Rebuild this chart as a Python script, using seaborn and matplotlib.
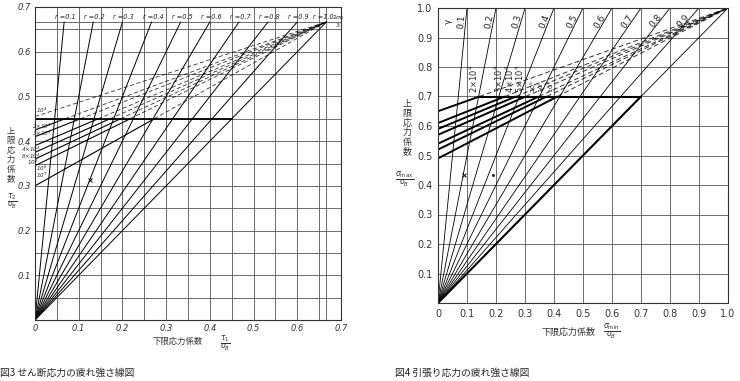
import numpy as np
import pandas as pd
import matplotlib.pyplot as plt
import seaborn as sns

sns.set_style("white")
plt.rcParams['font.family'] = ['DejaVu Sans', 'Noto Sans CJK JP']
plt.rcParams['mathtext.fontset'] = 'dejavusans'
JP = ['Noto Sans CJK JP', 'DejaVu Sans']

# ---- data: 図3 (shear) ----
r_left = [0.1, 0.2, 0.3, 0.4, 0.5, 0.6, 0.7, 0.8, 0.9, 1.0]
n_left = ['10$^4$', '2×10$^4$', '3×10$^4$', '4×10$^4$', '6×10$^4$', '10$^5$', '10$^6$', '10$^7$']
a_left = [0.455, 0.425, 0.41, 0.39, 0.375, 0.36, 0.345, 0.30]
limit_left = 0.45
apex_left = 2 / 3

# ---- data: 図4 (tension) ----
r_right = [0.1, 0.2, 0.3, 0.4, 0.5, 0.6, 0.7, 0.8, 0.9, 1.0]
n_right = ['2×10$^4$', '3×10$^4$', '4×10$^4$', '5×10$^4$', '10$^5$', '10$^6$', '10$^7$']
a_right = [0.65, 0.61, 0.59, 0.57, 0.54, 0.52, 0.49]
limit_right = 0.70
apex_right = 1.0

GRID = '#555555'
fig = plt.figure(figsize=(7.4, 3.81), dpi=100)
axl = fig.add_axes([35 / 740, 1 - 320 / 381, 306 / 740, 313 / 381])
axr = fig.add_axes([438 / 740, 1 - 303 / 381, 290 / 740, 295 / 381])


def fan_frame(rs, top):
    rows = []
    for r in rs:
        rows.append({'r': r, 'x': 0.0, 'y': 0.0})
        rows.append({'r': r, 'x': r * top, 'y': top})
    return pd.DataFrame(rows)


def n_lines(ax, a_vals, limit, apex, lw_solid, dash_lw):
    for a in a_vals:
        # straight line from (0, a) to apex; solid below limit, dashed above
        if a < limit:
            xc = (limit - a) / (apex - a) * apex
            ax.plot([0, xc], [a, limit], color='k', lw=lw_solid, solid_capstyle='butt')
        else:
            xc = 0.0
        ax.plot([xc, apex], [max(a, limit), apex], color='k', lw=dash_lw,
                ls=(0, (5, 3)), alpha=0.8)


# ================= left chart =================
ax = axl
ax.set_xlim(0, 0.7)
ax.set_ylim(0, 0.7)
for v in list(np.arange(0.05, 0.70, 0.05)) + [apex_left]:
    ax.axvline(v, color=GRID, lw=0.6, zorder=0)
    ax.axhline(v, color=GRID, lw=0.6, zorder=0)
sns.lineplot(data=fan_frame(r_left, apex_left), x='x', y='y', units='r',
             estimator=None, color='k', lw=0.7, ax=ax, legend=False)
ax.plot([0, limit_left], [limit_left, limit_left], color='k', lw=1.3)
n_lines(ax, a_left, limit_left, apex_left, 0.8, 0.6)

for r in r_left:
    x = r * apex_left + 0.003 if r < 1.0 else r * apex_left - 0.008
    ax.text(x, 0.677, f'r ={r:.1f}', fontsize=4.7, style='italic',
            ha='center', va='center')
ax.text(0.693, 0.677, r'$2\sigma_B$', fontsize=4.5, ha='center', va='center', clip_on=False)
ax.text(0.693, 0.659, '3', fontsize=4.5, ha='center', va='center', clip_on=False)

lab_pos_left = [(0.016, 0.468), (0.016, 0.433), (0.016, 0.417), (-0.010, 0.381),
                (-0.010, 0.367), (-0.005, 0.353), (0.016, 0.340), (0.016, 0.324)]
for txt, (x, y) in zip(n_left, lab_pos_left):
    ax.text(x, y, txt, fontsize=4.1, style='italic', ha='center', va='center', clip_on=False)
ax.plot(0.126, 0.313, marker='x', color='k', ms=3, mew=0.7)

ax.set_xticks(np.arange(0, 0.71, 0.1))
ax.set_xticklabels(['0'] + [f'{v:.1f}' for v in np.arange(0.1, 0.71, 0.1)])
ax.set_yticks(np.arange(0.1, 0.71, 0.1))
ax.set_yticklabels([f'{v:.1f}' for v in np.arange(0.1, 0.71, 0.1)])
ax.tick_params(length=0, labelsize=6, colors='#333333', pad=3)
for t in ax.get_xticklabels() + ax.get_yticklabels():
    t.set_style('italic')
ax.set_xlabel('')
ax.set_ylabel('')
for s in ax.spines.values():
    s.set_color('#333333')
    s.set_linewidth(0.8)

# ================= right chart =================
ax = axr
ax.set_xlim(0, 1.0)
ax.set_ylim(0, 1.0)
for v in np.arange(0.1, 1.0, 0.1):
    ax.axvline(v, color=GRID, lw=0.6, zorder=0)
    ax.axhline(v, color=GRID, lw=0.6, zorder=0)
sns.lineplot(data=fan_frame(r_right[:-1], apex_right), x='x', y='y', units='r',
             estimator=None, color='k', lw=0.6, ax=ax, legend=False)
ax.plot([0, limit_right], [0, limit_right], color='k', lw=1.5)
ax.plot([limit_right, apex_right], [limit_right, apex_right], color='k', lw=0.6)
x_first = (limit_right - a_right[0]) / (apex_right - a_right[0])
ax.plot([x_first, limit_right], [limit_right, limit_right], color='k', lw=1.5)
n_lines(ax, a_right, limit_right, apex_right, 1.4, 0.7)

ax.text(0.035, 0.955, 'γ', fontsize=6.5, rotation=90, ha='center', va='center')
for r in r_right[:-1]:
    ang = np.degrees(np.arctan2(1.0, r))
    ax.text(r * 0.955 - 0.014, 0.955, f'{r:.1f}', fontsize=6.5, rotation=ang,
            transform_rotates_text=True, ha='center', va='center')
for i, (txt, a) in enumerate(zip(n_right, a_right)):
    xc = (limit_right - a) / (apex_right - a)
    ax.text(xc - 0.02, limit_right + 0.012, txt, fontsize=6 if i < 4 else 4.6,
            rotation=90, ha='center', va='bottom')
ax.plot(0.09, 0.434, marker='x', color='k', ms=3, mew=0.7)
ax.plot(0.19, 0.434, marker='.', color='k', ms=2)

ax.set_xticks(np.arange(0, 1.01, 0.1))
ax.set_xticklabels(['0'] + [f'{v:.1f}' for v in np.arange(0.1, 1.01, 0.1)])
ax.set_yticks(np.arange(0.1, 1.01, 0.1))
ax.set_yticklabels([f'{v:.1f}' for v in np.arange(0.1, 1.01, 0.1)])
ax.tick_params(length=0, labelsize=7, colors='#333333', pad=4)
ax.set_xlabel('')
ax.set_ylabel('')
for s in ax.spines.values():
    s.set_color('#333333')
    s.set_linewidth(0.8)

# ================= axis titles & captions =================
fig.text(11 / 740, 1 - 155 / 381, '上\n限\n応\n力\n係\n数', family=JP, fontsize=6,
         ha='center', va='center', linespacing=1.05, color='#333333')
fig.text(12 / 740, 1 - 201 / 381, r'$\frac{\tau_2}{\sigma_B}$', fontsize=8,
         ha='center', va='center', color='#333333')
fig.text(178 / 740, 1 - 341 / 381, '下限応力係数', family=JP, fontsize=6,
         ha='center', va='center', color='#333333')
fig.text(225 / 740, 1 - 343 / 381, r'$\frac{\tau_1}{\sigma_B}$', fontsize=8,
         ha='center', va='center', color='#333333')

fig.text(407 / 740, 1 - 128 / 381, '上\n限\n応\n力\n係\n数', family=JP, fontsize=6.5,
         ha='center', va='center', linespacing=1.05, color='#333333')
fig.text(405 / 740, 1 - 179 / 381, r'$\frac{\sigma_{\max}}{\sigma_B}$', fontsize=8,
         ha='center', va='center', color='#333333')
fig.text(568 / 740, 1 - 332 / 381, '下限応力係数', family=JP, fontsize=6.5,
         ha='center', va='center', color='#333333')
fig.text(612 / 740, 1 - 331 / 381, r'$\frac{\sigma_{\min}}{\sigma_B}$', fontsize=8,
         ha='center', va='center', color='#333333')

fig.text(0 / 740, 1 - 373 / 381, '図3 せん断応力の疲れ強さ線図', family=JP, fontsize=7,
         ha='left', va='center', color='#222222')
fig.text(395 / 740, 1 - 373 / 381, '図4 引張り応力の疲れ強さ線図', family=JP, fontsize=7,
         ha='left', va='center', color='#222222')

fig.savefig('out.png', dpi=100)
